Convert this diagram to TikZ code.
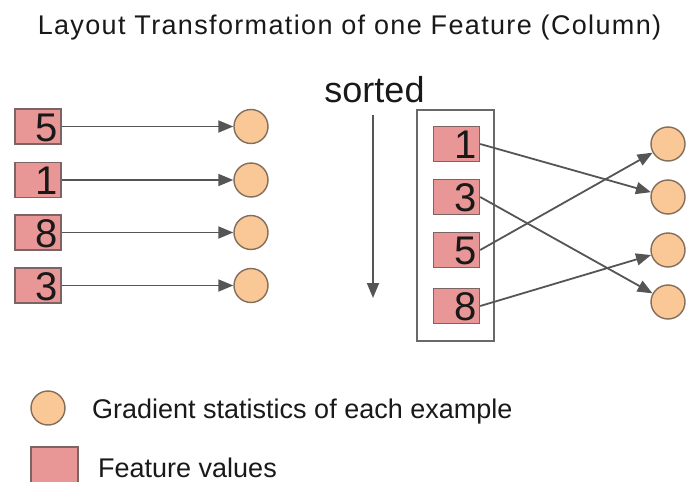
\documentclass[tikz,border=0pt]{standalone}
\usepackage{fontspec}
\setmainfont{Liberation Sans}
\usetikzlibrary{arrows.meta}

\definecolor{valfill}{RGB}{233,150,150}
\definecolor{valedge}{RGB}{125,100,100}
\definecolor{gradfill}{RGB}{250,200,150}
\definecolor{gradedge}{RGB}{130,110,90}
\definecolor{arrowgray}{RGB}{85,85,85}
\definecolor{boxgray}{RGB}{105,105,105}
\definecolor{textblack}{RGB}{25,25,25}

\tikzset{
  featbox/.style={draw=valedge, fill=valfill, line width=1.4pt,
    minimum width=46pt, minimum height=35pt, inner xsep=3pt, inner ysep=0pt,
    text width=40pt, align=right, text height=29pt, text depth=0pt,
    font=\fontsize{40}{40}\selectfont, text=textblack},
  gradcirc/.style={circle, draw=gradedge, fill=gradfill, line width=1.4pt,
    minimum size=34pt, inner sep=0pt},
  link/.style={draw=arrowgray, line width=1.8pt,
    -{Triangle[length=15pt,width=12pt]}},
}

\begin{document}
\begin{tikzpicture}[x=1pt, y=-1pt]
\path[use as bounding box, fill=white] (0,0) rectangle (689,482);

% heading
\node[anchor=base, inner sep=0pt, text=textblack,
  font=\fontsize{27}{27}\selectfont\addfontfeature{LetterSpace=5}]
  (title) at (349.5,34) {Layout Transformation of one Feature (Column)};

% original row order: values and their gradient statistics
\node[featbox] (l5) at (38,126.5) {5};
\node[featbox] (l1) at (38,180) {1};
\node[featbox] (l8) at (38,232.5) {8};
\node[featbox] (l3) at (38,285.5) {3};

\node[gradcirc] (g1) at (251,126.5) {};
\node[gradcirc] (g2) at (251,180) {};
\node[gradcirc] (g3) at (251,232.5) {};
\node[gradcirc] (g4) at (251,285.5) {};

\draw[link] (l5.east) -- (g1);
\draw[link] (l1.east) -- (g2);
\draw[link] (l8.east) -- (g3);
\draw[link] (l3.east) -- (g4);

% sort direction
\node[anchor=base, inner sep=0pt, text=textblack,
  font=\fontsize{36}{36}\selectfont] (sorted) at (374.5,102) {sorted};
\coordinate (s0) at (373,115);
\coordinate (s1) at (373,298);
\draw[link] (s0) -- (s1);

% sorted column block
\node[draw=boxgray, line width=1.3pt, minimum width=77pt, minimum height=231pt,
  inner sep=0pt] (col) at (455.5,225.5) {};
\node[featbox] (m1) at (456.5,144) {1};
\node[featbox] (m3) at (456.5,197) {3};
\node[featbox] (m5) at (456.5,250) {5};
\node[featbox] (m8) at (456.5,306) {8};

\node[gradcirc] (r1) at (668,144) {};
\node[gradcirc] (r2) at (668,197) {};
\node[gradcirc] (r3) at (668,250) {};
\node[gradcirc] (r4) at (668,302) {};

\draw[link] (m1.east) -- (r2);
\draw[link] (m3.east) -- (r4);
\draw[link] (m5.east) -- (r1);
\draw[link] (m8.east) -- (r3);

% legend
\node[gradcirc] (keyc) at (48,408) {};
\node[anchor=base west, inner sep=0pt, text=textblack,
  font=\fontsize{27}{27}\selectfont] (keyct) at (92,418)
  {Gradient statistics of each example};
\node[draw=valedge, fill=valfill, line width=1.4pt, minimum width=47pt,
  minimum height=44pt, inner sep=0pt] (keyr) at (54.5,469) {};
\node[anchor=base west, inner sep=0pt, text=textblack,
  font=\fontsize{27}{27}\selectfont] (keyrt) at (98,477) {Feature values};
\end{tikzpicture}
\end{document}
